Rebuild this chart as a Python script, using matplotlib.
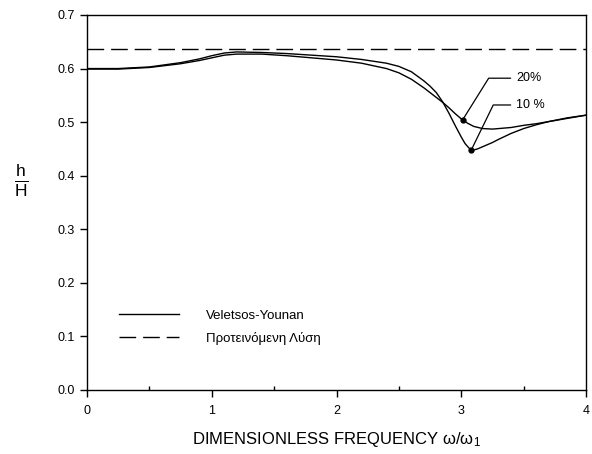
import numpy as np
import matplotlib
matplotlib.use('Agg')
import matplotlib.pyplot as plt

plt.rcParams['font.family'] = ['Liberation Sans', 'DejaVu Sans']
plt.rcParams['mathtext.fontset'] = 'custom'
plt.rcParams['mathtext.rm'] = 'Liberation Sans'
plt.rcParams['mathtext.it'] = 'Liberation Sans:italic'

# curve for 10% damping
x10 = [0.0, 0.25, 0.5, 0.75, 0.9, 1.0, 1.1, 1.2, 1.4, 1.6, 1.8, 2.0, 2.2, 2.4, 2.5,
       2.6, 2.7, 2.75, 2.8, 2.85, 2.9, 2.95, 3.0, 3.03, 3.06, 3.08, 3.1, 3.13, 3.16,
       3.2, 3.25, 3.3, 3.4, 3.5, 3.6, 3.7, 3.85, 4.0]
y10 = [0.600, 0.600, 0.603, 0.611, 0.618, 0.624, 0.629, 0.631, 0.630, 0.628, 0.625,
       0.622, 0.617, 0.610, 0.604, 0.594, 0.577, 0.567, 0.555, 0.538, 0.517, 0.494,
       0.472, 0.460, 0.452, 0.448, 0.448, 0.450, 0.453, 0.457, 0.462, 0.468, 0.479,
       0.488, 0.495, 0.501, 0.508, 0.513]

# curve for 20% damping
x20 = [0.0, 0.25, 0.5, 0.75, 0.9, 1.0, 1.1, 1.2, 1.4, 1.6, 1.8, 2.0, 2.2, 2.4, 2.5,
       2.6, 2.7, 2.8, 2.85, 2.9, 2.95, 3.0, 3.05, 3.1, 3.17, 3.25, 3.3, 3.4, 3.5,
       3.6, 3.7, 3.85, 4.0]
y20 = [0.599, 0.599, 0.602, 0.609, 0.615, 0.620, 0.625, 0.627, 0.627, 0.624, 0.620,
       0.616, 0.610, 0.600, 0.592, 0.580, 0.564, 0.546, 0.537, 0.527, 0.516, 0.506,
       0.498, 0.492, 0.488, 0.487, 0.488, 0.490, 0.494, 0.497, 0.501, 0.507, 0.513]

# proposed solution: constant 2/pi
x_prop = [0.0, 4.0]
y_prop = [2 / np.pi, 2 / np.pi]

# annotation points and labels
ann_labels = ['20%', '10 %']
ann_pts = [(3.01, 0.504), (3.08, 0.448)]
ann_txt = [(3.44, 0.582), (3.44, 0.532)]
ann_angles = [58, 64]

fig = plt.figure(figsize=(5.92, 4.54), dpi=100)
ax = fig.add_axes([0.147, 0.141, 0.843, 0.826])

ax.plot(x10, y10, color='black', lw=1.0, label='Veletsos-Younan')
ax.plot(x20, y20, color='black', lw=1.0)
ax.plot(x_prop, y_prop, color='black', lw=1.0, dashes=(12, 5),
        label='Προτεινόμενη Λύση')

for lab, pt, tp, ang in zip(ann_labels, ann_pts, ann_txt, ann_angles):
    ax.plot(pt[0], pt[1], 'o', color='black', ms=3.5)
    ax.annotate(lab, xy=pt, xytext=tp, fontsize=9, ha='left', va='center',
                arrowprops=dict(arrowstyle='-', color='black', lw=0.9,
                                shrinkA=2, shrinkB=0,
                                connectionstyle='angle,angleA=0,angleB=%d,rad=0' % ang))

ax.set_xlim(0, 4)
ax.set_ylim(0, 0.7)
ax.set_xticks([0, 1, 2, 3, 4])
ax.set_xticks([0.5, 1.5, 2.5, 3.5], minor=True)
ax.set_yticks(np.arange(0, 0.71, 0.1))
ax.set_yticklabels(['%.1f' % v for v in np.arange(0, 0.71, 0.1)])
ax.tick_params(which='major', direction='out', length=5, width=1, labelsize=9)
ax.tick_params(which='minor', direction='in', length=3, width=1)
ax.tick_params(axis='x', pad=6)
for s in ax.spines.values():
    s.set_linewidth(1.0)

ax.set_xlabel(r'DIMENSIONLESS FREQUENCY ω/ω$_1$', fontsize=12, labelpad=9)
fig.text(21 / 592, 1 - 180 / 454, r'$\frac{\mathrm{h}}{\mathrm{H}}$', fontsize=18,
         ha='center', va='center')

ax.legend(loc='lower left', bbox_to_anchor=(0.065, 0.12), frameon=False,
          fontsize=9.5, handlelength=4.55, handletextpad=2.0, labelspacing=0.75,
          borderpad=0, borderaxespad=0)

fig.savefig('out.png', dpi=100)
